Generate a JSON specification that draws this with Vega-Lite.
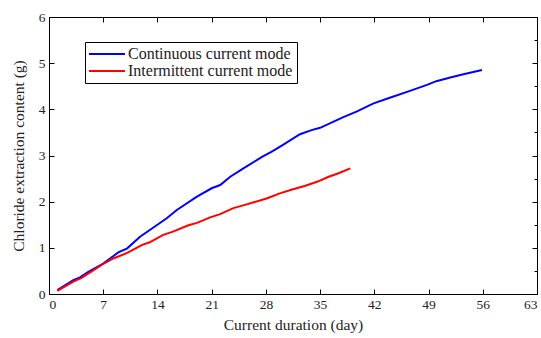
{
  "$schema": "https://vega.github.io/schema/vega-lite/v6.json",
  "width": 488,
  "height": 277,
  "autosize": {"type": "none"},
  "padding": {"left": 49, "top": 17, "right": 4, "bottom": 44},
  "background": "white",
  "config": {
    "view": {"stroke": "black", "strokeWidth": 1},
    "font": "Times New Roman, Liberation Serif, serif",
    "axis": {
      "grid": false,
      "domainColor": "black",
      "tickColor": "black",
      "labelColor": "#222",
      "titleColor": "#222",
      "labelFont": "Times New Roman, Liberation Serif, serif",
      "titleFont": "Times New Roman, Liberation Serif, serif",
      "labelFontSize": 13.5,
      "titleFontSize": 15.5,
      "titleFontWeight": "normal"
    },
    "legend": {
      "labelFont": "Times New Roman, Liberation Serif, serif"
    }
  },
  "data": {"values": [
    {"day": 1.07, "value": 0.087, "mode": "Continuous current mode"},
    {"day": 3.14, "value": 0.30, "mode": "Continuous current mode"},
    {"day": 4.0, "value": 0.36, "mode": "Continuous current mode"},
    {"day": 5.08, "value": 0.48, "mode": "Continuous current mode"},
    {"day": 7.0, "value": 0.66, "mode": "Continuous current mode"},
    {"day": 8.95, "value": 0.90, "mode": "Continuous current mode"},
    {"day": 10.1, "value": 0.99, "mode": "Continuous current mode"},
    {"day": 11.75, "value": 1.24, "mode": "Continuous current mode"},
    {"day": 13.9, "value": 1.49, "mode": "Continuous current mode"},
    {"day": 15.2, "value": 1.64, "mode": "Continuous current mode"},
    {"day": 16.5, "value": 1.82, "mode": "Continuous current mode"},
    {"day": 19.1, "value": 2.11, "mode": "Continuous current mode"},
    {"day": 21.0, "value": 2.29, "mode": "Continuous current mode"},
    {"day": 22.1, "value": 2.36, "mode": "Continuous current mode"},
    {"day": 23.4, "value": 2.54, "mode": "Continuous current mode"},
    {"day": 25.1, "value": 2.72, "mode": "Continuous current mode"},
    {"day": 27.5, "value": 2.97, "mode": "Continuous current mode"},
    {"day": 28.7, "value": 3.08, "mode": "Continuous current mode"},
    {"day": 30.0, "value": 3.21, "mode": "Continuous current mode"},
    {"day": 32.4, "value": 3.46, "mode": "Continuous current mode"},
    {"day": 33.9, "value": 3.55, "mode": "Continuous current mode"},
    {"day": 35.0, "value": 3.60, "mode": "Continuous current mode"},
    {"day": 38.0, "value": 3.83, "mode": "Continuous current mode"},
    {"day": 39.7, "value": 3.95, "mode": "Continuous current mode"},
    {"day": 41.9, "value": 4.13, "mode": "Continuous current mode"},
    {"day": 44.0, "value": 4.25, "mode": "Continuous current mode"},
    {"day": 46.6, "value": 4.40, "mode": "Continuous current mode"},
    {"day": 48.8, "value": 4.53, "mode": "Continuous current mode"},
    {"day": 50.0, "value": 4.61, "mode": "Continuous current mode"},
    {"day": 51.8, "value": 4.69, "mode": "Continuous current mode"},
    {"day": 53.5, "value": 4.76, "mode": "Continuous current mode"},
    {"day": 55.9, "value": 4.85, "mode": "Continuous current mode"},
    {"day": 1.07, "value": 0.07, "mode": "Intermittent current mode"},
    {"day": 3.14, "value": 0.27, "mode": "Intermittent current mode"},
    {"day": 4.2, "value": 0.35, "mode": "Intermittent current mode"},
    {"day": 5.3, "value": 0.47, "mode": "Intermittent current mode"},
    {"day": 7.0, "value": 0.65, "mode": "Intermittent current mode"},
    {"day": 8.3, "value": 0.77, "mode": "Intermittent current mode"},
    {"day": 10.1, "value": 0.89, "mode": "Intermittent current mode"},
    {"day": 11.97, "value": 1.06, "mode": "Intermittent current mode"},
    {"day": 13.0, "value": 1.12, "mode": "Intermittent current mode"},
    {"day": 14.75, "value": 1.28, "mode": "Intermittent current mode"},
    {"day": 16.0, "value": 1.35, "mode": "Intermittent current mode"},
    {"day": 18.0, "value": 1.49, "mode": "Intermittent current mode"},
    {"day": 19.1, "value": 1.54, "mode": "Intermittent current mode"},
    {"day": 20.8, "value": 1.66, "mode": "Intermittent current mode"},
    {"day": 22.1, "value": 1.73, "mode": "Intermittent current mode"},
    {"day": 23.8, "value": 1.86, "mode": "Intermittent current mode"},
    {"day": 25.3, "value": 1.93, "mode": "Intermittent current mode"},
    {"day": 28.1, "value": 2.07, "mode": "Intermittent current mode"},
    {"day": 29.8, "value": 2.18, "mode": "Intermittent current mode"},
    {"day": 31.5, "value": 2.27, "mode": "Intermittent current mode"},
    {"day": 33.0, "value": 2.34, "mode": "Intermittent current mode"},
    {"day": 34.6, "value": 2.43, "mode": "Intermittent current mode"},
    {"day": 36.1, "value": 2.54, "mode": "Intermittent current mode"},
    {"day": 37.3, "value": 2.61, "mode": "Intermittent current mode"},
    {"day": 38.9, "value": 2.72, "mode": "Intermittent current mode"}
  ]},
  "resolve": {"axis": {"x": "independent", "y": "independent"}},
  "layer": [
    {
      "mark": {"type": "line", "strokeWidth": 2},
      "encoding": {
        "x": {
          "field": "day", "type": "quantitative",
          "scale": {"domain": [0, 63], "nice": false, "zero": false},
          "axis": {
            "title": "Current duration (day)",
            "values": [0, 7, 14, 21, 28, 35, 42, 49, 56, 63],
            "tickSize": -5,
            "labelPadding": 8,
            "titlePadding": 7
          }
        },
        "y": {
          "field": "value", "type": "quantitative",
          "scale": {"domain": [0, 6], "nice": false},
          "axis": {
            "title": "Chloride extraction content (g)",
            "values": [0, 0.5, 1, 1.5, 2, 2.5, 3, 3.5, 4, 4.5, 5, 5.5, 6],
            "format": "d",
            "labelExpr": "datum.value % 1 === 0 ? datum.label : ''",
            "tickSize": {"condition": {"test": "datum.value % 1 !== 0", "value": -3}, "value": -5},
            "labelPadding": 9,
            "titlePadding": 12
          }
        },
        "color": {
          "field": "mode", "type": "nominal",
          "scale": {"domain": ["Continuous current mode", "Intermittent current mode"], "range": ["#0000ff", "#ff0000"]},
          "legend": {
            "title": null,
            "orient": "none",
            "legendX": 36,
            "legendY": 25,
            "strokeColor": "black",
            "fillColor": "white",
            "padding": 4,
            "symbolType": "M-3,0H3",
            "symbolSize": 144,
            "symbolStrokeWidth": 2,
            "labelFontSize": 16,
            "labelLimit": 400,
            "labelColor": "#222",
            "labelOffset": 13,
            "symbolOffset": 10,
            "rowPadding": 1
          }
        }
      }
    },
    {
      "mark": {"type": "line", "opacity": 0},
      "encoding": {
        "x": {
          "field": "day", "type": "quantitative",
          "axis": {
            "orient": "top", "title": null, "labels": false,
            "values": [0, 7, 14, 21, 28, 35, 42, 49, 56, 63],
            "tickSize": -5
          }
        },
        "y": {
          "field": "value", "type": "quantitative",
          "axis": {
            "orient": "right", "title": null, "labels": false,
            "values": [0, 0.5, 1, 1.5, 2, 2.5, 3, 3.5, 4, 4.5, 5, 5.5, 6],
            "tickSize": {"condition": {"test": "datum.value % 1 !== 0", "value": -3}, "value": -5}
          }
        }
      }
    }
  ]
}
